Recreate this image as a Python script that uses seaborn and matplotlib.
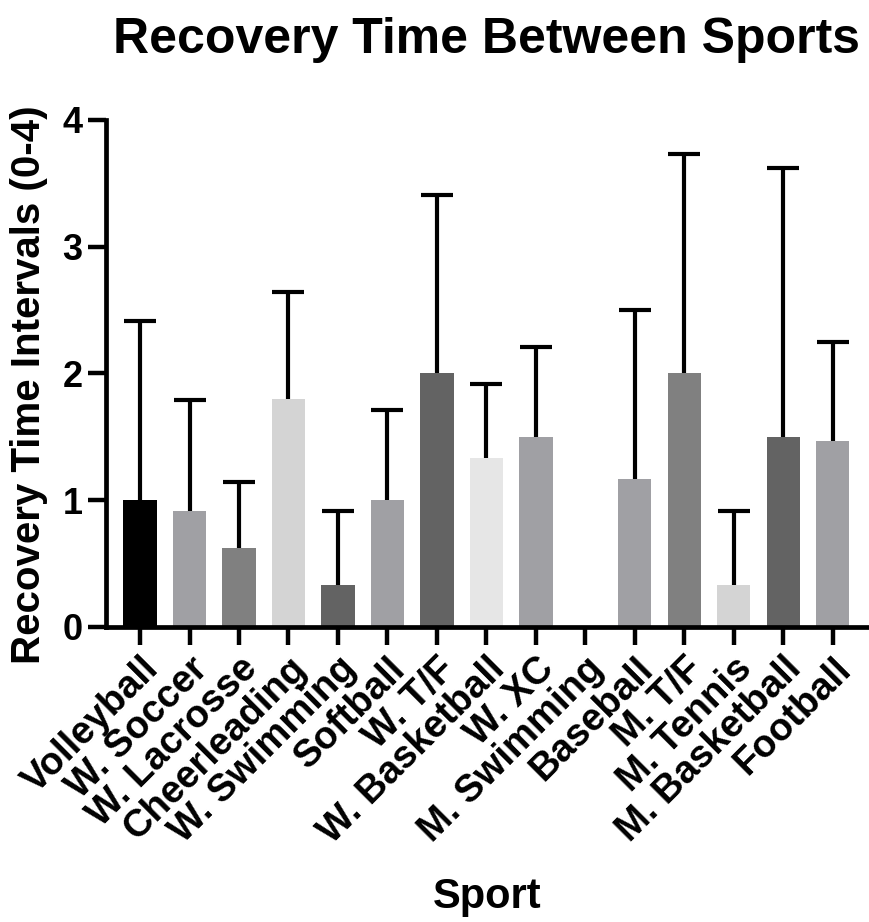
import numpy as np
import pandas as pd
import matplotlib
matplotlib.use("Agg")
import matplotlib.pyplot as plt
import seaborn as sns

sports = ["Volleyball", "W. Soccer", "W. Lacrosse", "Cheerleading", "W. Swimming",
          "Softball", "W. T/F", "W. Basketball", "W. XC", "M. Swimming",
          "Baseball", "M. T/F", "M. Tennis", "M. Basketball", "Football"]
means = [1.0, 0.917, 0.625, 1.8, 0.333, 1.0, 2.0, 1.333, 1.5, 0.0,
         1.167, 2.0, 0.333, 1.5, 1.47]
sds = [1.41, 0.87, 0.52, 0.84, 0.58, 0.71, 1.41, 0.58, 0.71, np.nan,
       1.33, 1.73, 0.58, 2.12, 0.78]
colors = ["#000000", "#a0a0a4", "#808080", "#d4d4d4", "#636363",
          "#a0a0a4", "#636363", "#e6e6e6", "#a0a0a4", "#a0a0a4",
          "#a0a0a4", "#808080", "#d4d4d4", "#636363", "#a0a0a4"]
yticks = [0, 1, 2, 3, 4]

sns.set_theme(style="ticks", rc={"text.color": "black", "axes.labelcolor": "black",
                                 "xtick.color": "black", "ytick.color": "black",
                                 "axes.edgecolor": "black"})
plt.rcParams['font.family'] = ['Liberation Sans', 'DejaVu Sans']
plt.rcParams['font.weight'] = 'bold'

df = pd.DataFrame({"Sport": sports, "Mean": means, "SD": sds})

fig = plt.figure(figsize=(8.69, 9.22), dpi=100)
ax = fig.add_axes([0.122, 0.320, 0.878, 0.550])

sns.barplot(data=df, x="Sport", y="Mean", hue="Sport", palette=colors,
            legend=False, width=0.67, saturation=1, linewidth=0, ax=ax, zorder=2)

pos = np.arange(len(sports))
eb = ax.errorbar(pos, df["Mean"], yerr=[np.zeros(len(sds)), df["SD"]],
                 fmt="none", ecolor="black", elinewidth=3.0, capsize=11.5,
                 capthick=3.0, zorder=1)
eb[1][0].set_visible(False)

ax.set_ylim(0, 4)
ax.set_xlim(-0.687, 14.73)
ax.set_yticks(yticks)
ax.set_yticklabels([str(t) for t in yticks], fontsize=26, fontweight="bold")
ax.set_xticks(pos)
ax.set_xticklabels(sports, rotation=45, ha="right", rotation_mode="anchor",
                   fontsize=27.5, fontweight="bold")
ax.tick_params(axis="both", width=3.2, length=13, color="black", pad=4)
for s in ["top", "right"]:
    ax.spines[s].set_visible(False)
for s in ["left", "bottom"]:
    ax.spines[s].set_linewidth(3.4)
    ax.spines[s].set_color("black")

ax.set_ylabel("Recovery Time Intervals (0-4)", fontsize=29, fontweight="bold")
ax.yaxis.set_label_coords(-0.076, 0.477)
ax.set_xlabel("Sport", fontsize=30, fontweight="bold", labelpad=19)
fig.text(0.56, 0.957, "Recovery Time Between Sports", ha="center", va="center",
         fontsize=36, fontweight="bold")

fig.savefig("out.png", dpi=100)
